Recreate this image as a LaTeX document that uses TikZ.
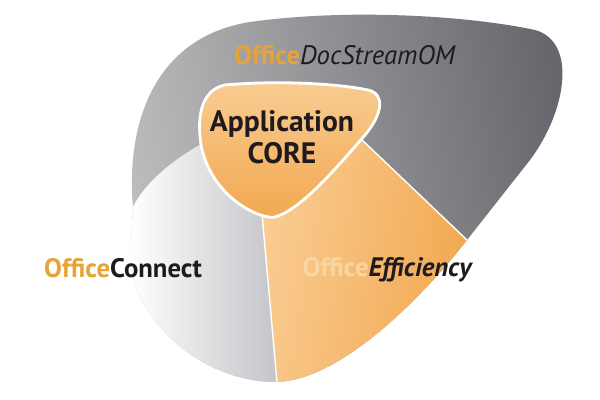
\documentclass[tikz,border=0pt]{standalone}
\usepackage{fontspec}
\setmainfont{PT Sans}
\definecolor{gold}{HTML}{E8A336}
\definecolor{cream}{HTML}{F6D7A4}
\definecolor{ink}{HTML}{1E1A1E}
\definecolor{grayL}{HTML}{BDBDBF}
\definecolor{grayD}{HTML}{66666C}
\definecolor{lightR}{HTML}{C4C4C9}
\definecolor{orL}{HTML}{F9CC92}
\definecolor{orD}{HTML}{F2A850}
\tikzset{
  region/.style={draw=white, line width=1pt},
  lbl/.style={inner sep=0pt, text=ink},
}
\begin{document}
\begin{tikzpicture}[x=0.025cm,y=-0.025cm]
\fill[white] (0,0) rectangle (600,400);
\useasboundingbox (0,0) rectangle (600,400);
% outer gray region (DocStream)
\shade[left color=grayL, right color=grayD, shading angle=100]
  (133,207) .. controls (126,130) and (150,38) .. (250,22)
  .. controls (350,8) and (470,16) .. (535,30)
  .. controls (578,42) and (566,112) .. (530,160)
  -- (467,240) .. controls (420,300) and (340,380) .. (277,382)
  .. controls (200,382) and (135,320) .. (130,260) -- cycle;
% light region (Connect)
\shade[left color=white, right color=lightR]
  (205,142) .. controls (175,158) and (145,182) .. (133,207)
  -- (130,260) .. controls (135,320) and (200,382) .. (277,382)
  -- (262,214) -- cycle;
% orange region (Efficiency)
\shade[left color=orL, right color=orD, shading angle=80]
  (360,138) -- (467,240) .. controls (420,300) and (340,380) .. (277,382)
  -- (262,214) -- cycle;
\draw[white, line width=1pt] (360,138) -- (467,240);
\draw[white, line width=1pt] (262,214) -- (277,382);
% core
\shade[region, line width=2pt, top color=orL, bottom color=orD]
  (225,85) .. controls (280,80) and (340,84) .. (368,90)
  .. controls (386,94) and (382,115) .. (365,135)
  .. controls (335,170) and (300,210) .. (275,217)
  .. controls (262,220) and (215,200) .. (202,150)
  .. controls (196,120) and (200,90) .. (225,85) -- cycle;
% labels
\node[lbl] (doc) at (345,55) {\fontsize{19}{22}\selectfont\textbf{\textcolor{gold}{Office}}\textit{DocStreamOM}};
\node[lbl, align=center, font=\fontsize{21}{23}\selectfont\bfseries] (core) at (282,137) {Application\\CORE};
\node[lbl] (conn) at (123,268) {\fontsize{19}{22}\selectfont\textbf{\textcolor{gold}{Office}Connect}};
\node[lbl] (eff) at (388,270) {\fontsize{19}{22}\selectfont\textbf{\textcolor{cream}{Office}}\textbf{\textit{Efficiency}}};
\end{tikzpicture}
\end{document}
